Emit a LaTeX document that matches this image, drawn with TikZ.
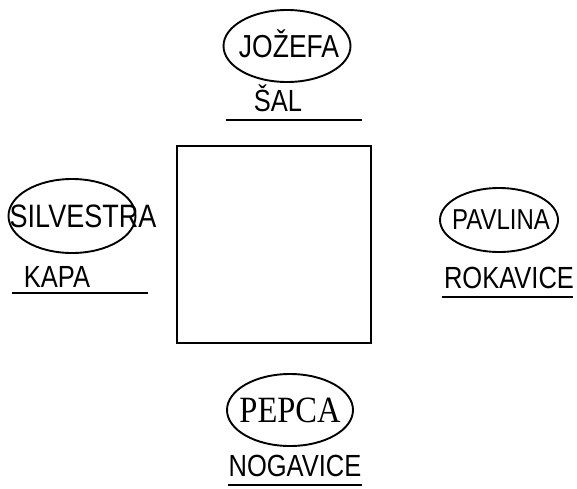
\documentclass[tikz,border=0pt]{standalone}
\usepackage{fontspec}
\setmainfont{Liberation Sans}
\newfontfamily\seriffont{Liberation Serif}
\usetikzlibrary{shapes.geometric}
\begin{document}
\begin{tikzpicture}[x=1pt,y=-1pt,
  oval/.style={draw,line width=1.9pt,ellipse,inner sep=0pt},
  lbl/.style={inner sep=0pt,yscale=1.2,font=\fontsize{25.5}{30}\selectfont},
  uline/.style={line width=2.4pt},
  box/.style={draw,line width=2pt,inner sep=0pt}]
\useasboundingbox[fill=white] (0,0) rectangle (577,488);
% square
\node[box,minimum width=194pt,minimum height=197pt] (sq) at (274,244.5) {};
% top
\node[oval,minimum width=127pt,minimum height=72pt] (e1) at (287,46) {};
\node[lbl,font=\fontsize{26.5}{30}\selectfont] (t1) at (289,44) {JOŽEFA};
\node[lbl] (l1) at (278,98) {ŠAL};
\coordinate (a1) at (226,120); \coordinate (b1) at (362,120);
\draw[uline] (a1) -- (b1);
% left
\node[oval,minimum width=127pt,minimum height=74pt] (e2) at (72,216) {};
\node[lbl,font=\fontsize{27}{30}\selectfont] (t2) at (83,216) {SILVESTRA};
\node[lbl] (l2) at (57,277) {KAPA};
\coordinate (a2) at (12,293); \coordinate (b2) at (148,293);
\draw[uline] (a2) -- (b2);
% right
\node[oval,minimum width=118pt,minimum height=64pt] (e3) at (499,220) {};
\node[lbl,font=\fontsize{24}{30}\selectfont] (t3) at (501,220) {PAVLINA};
\node[lbl] (l3) at (509,278) {ROKAVICE};
\coordinate (a3) at (442,297); \coordinate (b3) at (573,297);
\draw[uline] (a3) -- (b3);
% bottom
\node[oval,minimum width=126pt,minimum height=72pt] (e4) at (290,410) {};
\node[lbl,yscale=0.95,font=\seriffont\fontsize{32.5}{36}\selectfont] (t4) at (290,410) {PEPCA};
\node[lbl] (l4) at (295,466) {NOGAVICE};
\coordinate (a4) at (228,485); \coordinate (b4) at (362,485);
\draw[uline] (a4) -- (b4);
\end{tikzpicture}
\end{document}
